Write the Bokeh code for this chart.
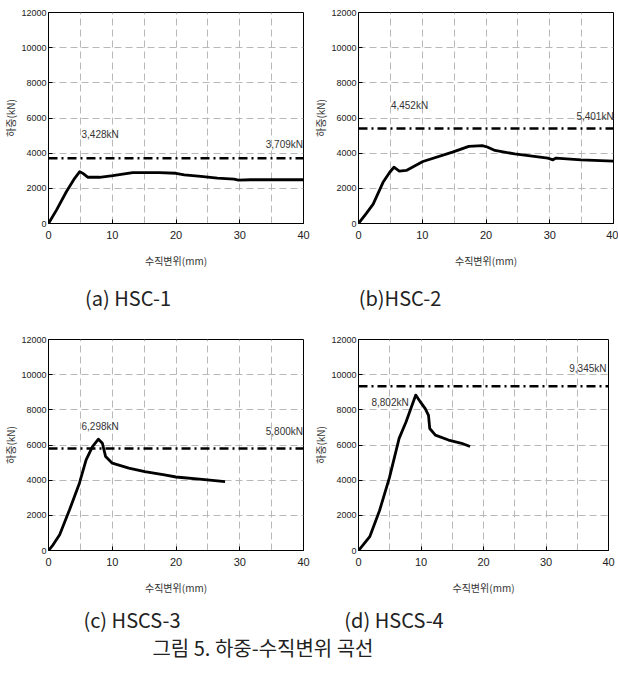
from bokeh.plotting import figure
from bokeh.models import Range1d, FixedTicker, Span, Label, Div
from bokeh.layouts import column, row
from bokeh.embed import file_html
from bokeh.resources import INLINE

# ---- data (displacement mm, load kN) ----
a_disp = [0, 1.25, 2.8, 4.1, 4.9, 5.4, 6.2, 8.0, 10.1, 13.2, 17.4, 20.0, 21.3, 23.9, 26.5, 29.1, 29.8, 31.7, 40]
a_load = [0, 760, 1806, 2571, 2949, 2850, 2629, 2629, 2720, 2891, 2891, 2857, 2770, 2675, 2580, 2525, 2470, 2487, 2487]

b_disp = [0, 1.2, 2.3, 3.85, 4.9, 5.56, 6.4, 7.5, 10.1, 14.75, 17.3, 19.4, 20.2, 21.4, 24.5, 29.7, 30.5, 31.0, 34.9, 40]
b_load = [0, 560, 1100, 2343, 2914, 3200, 2980, 3020, 3526, 4057, 4383, 4430, 4350, 4154, 3960, 3714, 3620, 3720, 3617, 3543]

c_disp = [0, 0.72, 1.75, 3.3, 4.85, 5.9, 6.9, 7.83, 8.45, 8.96, 10.0, 12.6, 15.1, 18.2, 20.0, 24.1, 27.7]
c_load = [0, 324, 892, 2312, 3830, 5153, 5909, 6330, 6102, 5340, 4966, 4682, 4489, 4300, 4180, 4050, 3920]

d_disp = [0, 0.74, 1.8, 3.37, 4.95, 6.5, 7.6, 9.16, 9.9, 10.7, 11.2, 11.4, 12.3, 14.4, 16.5, 17.85]
d_load = [0, 317, 783, 2275, 4140, 6378, 7310, 8839, 8450, 8056, 7681, 6937, 6564, 6283, 6098, 5913]

ref_loads = [3709, 5401, 5800, 9345]
peak_texts = ["3,428kN", "4,452kN", "6,298kN", "8,802kN"]
ref_texts = ["3,709kN", "5,401kN", "5,800kN", "9,345kN"]
captions = ["(a) HSC-1", "(b)HSC-2", "(c) HSCS-3", "(d) HSCS-4"]
fig_caption = "그림 5. 하중-수직변위 곡선"

x_ticks = [0, 10, 20, 30, 40]
y_ticks = [0, 2000, 4000, 6000, 8000, 10000, 12000]

TICK_FONT = "Liberation Sans"
KR_FONT = "Noto Sans CJK KR"


def panel(xs, ys, ref, peak_txt, peak_pos, ref_txt, ref_pos, w, h, borders):
    l, r, t, b = borders
    p = figure(width=w, height=h, x_range=Range1d(0, 40), y_range=Range1d(0, 12000),
               output_backend="svg", toolbar_location=None,
               min_border_left=l, min_border_right=r, min_border_top=t, min_border_bottom=b,
               background_fill_color="white", border_fill_color="white")
    p.outline_line_color = "black"
    p.outline_line_width = 1
    p.xgrid.ticker = FixedTicker(ticks=[5, 10, 15, 20, 25, 30, 35])
    p.ygrid.ticker = FixedTicker(ticks=[2000, 4000, 6000, 8000, 10000])
    for g in (p.xgrid, p.ygrid):
        g.grid_line_color = "#b8b8b8"
        g.grid_line_dash = "7 4"
        g.grid_line_width = 1
    p.xaxis.ticker = FixedTicker(ticks=x_ticks)
    p.yaxis.ticker = FixedTicker(ticks=y_ticks)
    for ax in (p.xaxis, p.yaxis):
        ax.axis_line_color = "black"
        ax.major_tick_in = 4
        ax.major_tick_out = 0
        ax.minor_tick_line_color = None
        ax.major_tick_line_color = "black"
        ax.major_label_text_font = TICK_FONT
        ax.major_label_text_color = "#222222"
        ax.axis_label_text_font = KR_FONT
        ax.axis_label_text_font_style = "normal"
        ax.axis_label_text_font_size = "10px"
        ax.axis_label_text_color = "#333333"
    p.xaxis.major_label_text_font_size = "11px"
    p.yaxis.major_label_text_font_size = "9px"
    p.xaxis.major_label_standoff = 7
    p.yaxis.major_label_standoff = 2
    p.xaxis.axis_label = "수직변위(mm)"
    p.yaxis.axis_label = "하중(kN)"
    p.xaxis.axis_label_standoff = 11
    p.yaxis.axis_label_standoff = 0

    p.add_layout(Span(location=ref, dimension="width", line_color="black",
                      line_width=2.5, line_dash="9 4 2 4"))
    p.line(xs, ys, line_color="black", line_width=2.8, line_join="round")
    for txt, (tx, ty) in ((peak_txt, peak_pos), (ref_txt, ref_pos)):
        p.add_layout(Label(x=tx, y=ty, text=txt, text_align="center", text_baseline="middle",
                           text_font=TICK_FONT, text_font_size="10px", text_color="#333333"))
    return p


pa = panel(a_disp, a_load, ref_loads[0], peak_texts[0], (8.1, 5046), ref_texts[0], (37.0, 4474),
           310, 274, (47, 7, 12, 50))
pb = panel(b_disp, b_load, ref_loads[1], peak_texts[1], (8.0, 6726), ref_texts[1], (37.1, 6057),
           308, 274, (46, 5, 12, 51))
pc = panel(c_disp, c_load, ref_loads[2], peak_texts[2], (8.1, 7045), ref_texts[2], (37.0, 6761),
           310, 282, (44, 7, 20, 50))
pd = panel(d_disp, d_load, ref_loads[3], peak_texts[3], (5.05, 8431), ref_texts[3], (36.7, 10333),
           308, 282, (45, 10, 21, 48))


def cap_block(text, cx, cy, size):
    lh = size + 6
    return (f'<div style="position:absolute;left:{cx - 150}px;width:300px;top:{cy - lh / 2}px;'
            f'text-align:center;font-family:\'{KR_FONT}\';font-size:{size}px;line-height:{lh}px;'
            f'color:#222;white-space:nowrap">{text}</div>')


cap1 = Div(width=618, height=44, margin=0, text=(
    '<div style="position:relative;width:618px;height:44px">'
    + cap_block(captions[0], 128, 24, 20)
    + cap_block(captions[1], 400, 24, 20)
    + '</div>'))
cap2 = Div(width=618, height=76, margin=0, text=(
    '<div style="position:relative;width:618px;height:76px">'
    + cap_block(captions[2], 132, 20, 20)
    + cap_block(captions[3], 394, 20, 20)
    + cap_block(fig_caption, 263, 48, 20)
    + '</div>'))

layout = column(row(pa, pb), cap1, row(pc, pd), cap2)
open("out.html", "w").write(file_html(layout, INLINE))
